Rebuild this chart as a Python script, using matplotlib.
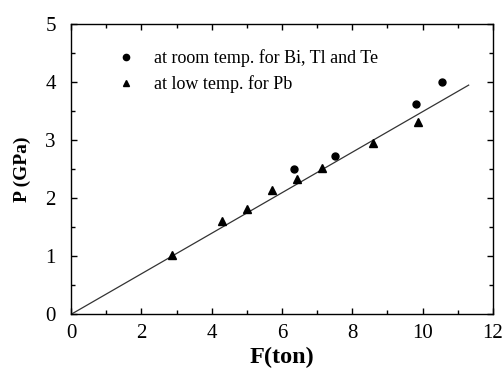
import matplotlib
matplotlib.use("Agg")
import matplotlib.pyplot as plt
import numpy as np
from matplotlib.ticker import MultipleLocator

# --- Data ---
room_F = [6.34, 7.50, 9.82, 10.55]
room_P = [2.51, 2.72, 3.62, 4.01]
low_F = [2.86, 4.30, 5.00, 5.71, 6.43, 7.14, 8.58, 9.86]
low_P = [1.03, 1.61, 1.82, 2.15, 2.33, 2.53, 2.96, 3.32]
fit_F = [0.0, 11.31]
fit_P = [0.0, 3.95]

plt.rcParams['font.family'] = ['Liberation Serif', 'DejaVu Serif']

fig = plt.figure(figsize=(5.04, 3.72), dpi=100)
ax = fig.add_axes([0.141, 0.155, 0.837, 0.780])

ax.plot(fit_F, fit_P, color='#333333', lw=0.9)
ax.plot(room_F, room_P, 'o', color='black', ms=5, label='at room temp. for Bi, Tl and Te')
ax.plot(low_F, low_P, '^', color='black', ms=5.5, label='at low temp. for Pb')

ax.set_xlim(0, 12)
ax.set_ylim(0, 5)
ax.xaxis.set_major_locator(MultipleLocator(2))
ax.xaxis.set_minor_locator(MultipleLocator(1))
ax.yaxis.set_major_locator(MultipleLocator(1))
ax.yaxis.set_minor_locator(MultipleLocator(0.5))
ax.tick_params(which='both', direction='in', top=True, right=True, labelsize=15, width=1)
ax.tick_params(which='major', length=4)
ax.tick_params(which='minor', length=3)
ax.tick_params(axis='x', pad=7)
ax.tick_params(axis='y', pad=11)
for s in ax.spines.values():
    s.set_linewidth(1)

ax.set_xlabel('F(ton)', fontsize=17.5, fontweight='bold', labelpad=3)
ax.set_ylabel('P (GPa)', fontsize=14, fontweight='bold', labelpad=10)

leg = ax.legend(loc='upper left', bbox_to_anchor=(0.06, 0.97), frameon=False, fontsize=13,
                handletextpad=0.8, labelspacing=0.45, handlelength=1.5, markerscale=0.9)

fig.savefig('out.png', dpi=100)
